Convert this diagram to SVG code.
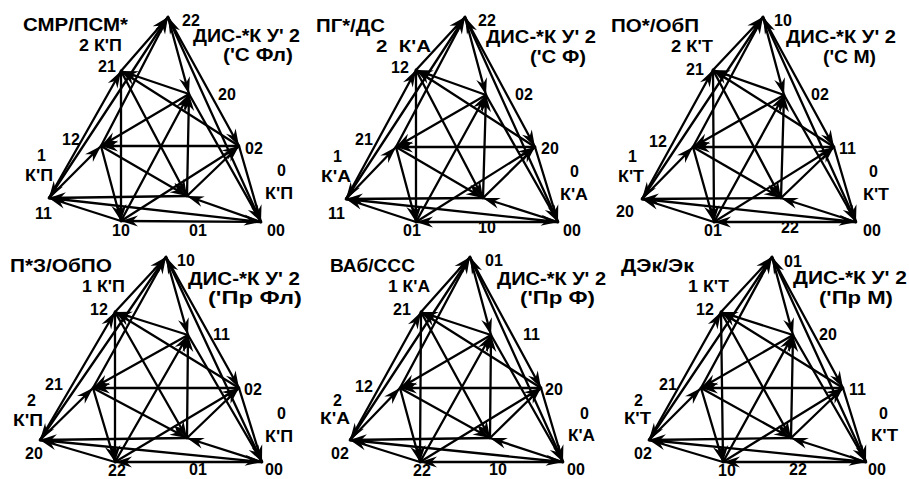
<svg xmlns="http://www.w3.org/2000/svg" width="909" height="479" viewBox="0 0 909 479">
<defs>
<marker id="ah" viewBox="-19 -7 20 14" refX="0" refY="0" markerWidth="20" markerHeight="14" markerUnits="userSpaceOnUse" orient="auto">
<path d="M0,0 L-17,-5.5 L-11.5,0 L-17,5.5 Z" fill="#000"/>
</marker>
</defs>
<style>
.e line{stroke:#000;stroke-width:2.3;marker-end:url(#ah);stroke-linecap:round}
text{font-family:"Liberation Sans",Arial,sans-serif;font-weight:bold;fill:#000}
.t{font-size:19px}
.k{font-size:16px}
.n{font-size:16px}
</style>
<rect width="909" height="479" fill="#fff"/>

<!-- Panel 1 -->
<g id="p1-connectors" class="e">
<line x1="121" y1="71" x2="168" y2="17"/><line x1="121" y1="71" x2="187" y2="196"/><line x1="121" y1="71" x2="121" y2="221"/>
<line x1="101" y1="146" x2="168" y2="17"/><line x1="101" y1="146" x2="187" y2="196"/><line x1="101" y1="146" x2="121" y2="221"/>
<line x1="261" y1="222" x2="168" y2="17"/><line x1="261" y1="222" x2="187" y2="196"/><line x1="261" y1="222" x2="121" y2="221"/>
<line x1="168" y1="17" x2="189" y2="94"/><line x1="168" y1="17" x2="239" y2="146"/><line x1="168" y1="17" x2="49" y2="198"/>
<line x1="187" y1="196" x2="189" y2="94"/><line x1="187" y1="196" x2="239" y2="146"/><line x1="187" y1="196" x2="49" y2="198"/>
<line x1="121" y1="221" x2="189" y2="94"/><line x1="121" y1="221" x2="239" y2="146"/><line x1="121" y1="221" x2="49" y2="198"/>
<line x1="189" y1="94" x2="121" y2="71"/><line x1="189" y1="94" x2="101" y2="146"/><line x1="189" y1="94" x2="261" y2="222"/>
<line x1="239" y1="146" x2="121" y2="71"/><line x1="239" y1="146" x2="101" y2="146"/><line x1="239" y1="146" x2="261" y2="222"/>
<line x1="49" y1="198" x2="121" y2="71"/><line x1="49" y1="198" x2="101" y2="146"/><line x1="49" y1="198" x2="261" y2="222"/>
</g>
<g id="p1-labels">
<text class="t" x="23" y="31" textLength="105" lengthAdjust="spacingAndGlyphs">СМР/ПСМ*</text>
<text class="k" x="79" y="51" textLength="43" lengthAdjust="spacingAndGlyphs">2 К'П</text>
<text class="t" x="193" y="42" textLength="107" lengthAdjust="spacingAndGlyphs">ДИС-*К У' 2</text>
<text class="t" x="223" y="61" textLength="70" lengthAdjust="spacingAndGlyphs">('С Фл)</text>
<text class="k" x="37" y="161">1</text>
<text class="k" x="25" y="181" textLength="28" lengthAdjust="spacingAndGlyphs">К'П</text>
<text class="k" x="277" y="176">0</text>
<text class="k" x="265" y="199" textLength="28" lengthAdjust="spacingAndGlyphs">К'П</text>
</g>
<g id="p1-n22"><text class="n" x="182" y="26">22</text></g>
<g id="p1-n21"><text class="n" x="98" y="72">21</text></g>
<g id="p1-n20"><text class="n" x="218" y="100">20</text></g>
<g id="p1-n12"><text class="n" x="62" y="145">12</text></g>
<g id="p1-n02"><text class="n" x="245" y="154">02</text></g>
<g id="p1-n11"><text class="n" x="35" y="219">11</text></g>
<g id="p1-n10"><text class="n" x="112" y="236">10</text></g>
<g id="p1-n01"><text class="n" x="189" y="236">01</text></g>
<g id="p1-n00"><text class="n" x="267" y="236">00</text></g>

<!-- Panel 2 -->
<g id="p2-connectors" class="e">
<line x1="416" y1="70" x2="465" y2="17"/><line x1="416" y1="70" x2="483" y2="198"/><line x1="416" y1="70" x2="416" y2="222"/>
<line x1="396" y1="147" x2="465" y2="17"/><line x1="396" y1="147" x2="483" y2="198"/><line x1="396" y1="147" x2="416" y2="222"/>
<line x1="558" y1="222" x2="465" y2="17"/><line x1="558" y1="222" x2="483" y2="198"/><line x1="558" y1="222" x2="416" y2="222"/>
<line x1="465" y1="17" x2="486" y2="95"/><line x1="465" y1="17" x2="535" y2="147"/><line x1="465" y1="17" x2="346" y2="199"/>
<line x1="483" y1="198" x2="486" y2="95"/><line x1="483" y1="198" x2="535" y2="147"/><line x1="483" y1="198" x2="346" y2="199"/>
<line x1="416" y1="222" x2="486" y2="95"/><line x1="416" y1="222" x2="535" y2="147"/><line x1="416" y1="222" x2="346" y2="199"/>
<line x1="486" y1="95" x2="416" y2="70"/><line x1="486" y1="95" x2="396" y2="147"/><line x1="486" y1="95" x2="558" y2="222"/>
<line x1="535" y1="147" x2="416" y2="70"/><line x1="535" y1="147" x2="396" y2="147"/><line x1="535" y1="147" x2="558" y2="222"/>
<line x1="346" y1="199" x2="416" y2="70"/><line x1="346" y1="199" x2="396" y2="147"/><line x1="346" y1="199" x2="558" y2="222"/>
</g>
<g id="p2-labels">
<text class="t" x="316" y="32" textLength="69" lengthAdjust="spacingAndGlyphs">ПГ*/ДС</text>
<text class="k" x="376" y="52" textLength="55" lengthAdjust="spacingAndGlyphs" xml:space="preserve">2  К'А</text>
<text class="t" x="486" y="43" textLength="110" lengthAdjust="spacingAndGlyphs">ДИС-*К У' 2</text>
<text class="t" x="530" y="63" textLength="56" lengthAdjust="spacingAndGlyphs">('С Ф)</text>
<text class="k" x="333" y="162">1</text>
<text class="k" x="321" y="182" textLength="30" lengthAdjust="spacingAndGlyphs">К'А</text>
<text class="k" x="570" y="177">0</text>
<text class="k" x="560" y="200" textLength="28" lengthAdjust="spacingAndGlyphs">К'А</text>
</g>
<g id="p2-n22"><text class="n" x="478" y="26">22</text></g>
<g id="p2-n12"><text class="n" x="391" y="73">12</text></g>
<g id="p2-n02"><text class="n" x="515" y="100">02</text></g>
<g id="p2-n21"><text class="n" x="355" y="145">21</text></g>
<g id="p2-n20"><text class="n" x="541" y="154">20</text></g>
<g id="p2-n11"><text class="n" x="328" y="219">11</text></g>
<g id="p2-n01"><text class="n" x="403" y="236">01</text></g>
<g id="p2-n10"><text class="n" x="478" y="233">10</text></g>
<g id="p2-n00"><text class="n" x="563" y="236">00</text></g>

<!-- Panel 3 -->
<g id="p3-connectors" class="e">
<line x1="713" y1="70" x2="763" y2="17"/><line x1="713" y1="70" x2="781" y2="198"/><line x1="713" y1="70" x2="714" y2="222"/>
<line x1="693" y1="147" x2="763" y2="17"/><line x1="693" y1="147" x2="781" y2="198"/><line x1="693" y1="147" x2="714" y2="222"/>
<line x1="856" y1="222" x2="763" y2="17"/><line x1="856" y1="222" x2="781" y2="198"/><line x1="856" y1="222" x2="714" y2="222"/>
<line x1="763" y1="17" x2="784" y2="95"/><line x1="763" y1="17" x2="834" y2="147"/><line x1="763" y1="17" x2="642" y2="199"/>
<line x1="781" y1="198" x2="784" y2="95"/><line x1="781" y1="198" x2="834" y2="147"/><line x1="781" y1="198" x2="642" y2="199"/>
<line x1="714" y1="222" x2="784" y2="95"/><line x1="714" y1="222" x2="834" y2="147"/><line x1="714" y1="222" x2="642" y2="199"/>
<line x1="784" y1="95" x2="713" y2="70"/><line x1="784" y1="95" x2="693" y2="147"/><line x1="784" y1="95" x2="856" y2="222"/>
<line x1="834" y1="147" x2="713" y2="70"/><line x1="834" y1="147" x2="693" y2="147"/><line x1="834" y1="147" x2="856" y2="222"/>
<line x1="642" y1="199" x2="713" y2="70"/><line x1="642" y1="199" x2="693" y2="147"/><line x1="642" y1="199" x2="856" y2="222"/>
</g>
<g id="p3-labels">
<text class="t" x="611" y="32" textLength="88" lengthAdjust="spacingAndGlyphs">ПО*/ОбП</text>
<text class="k" x="671" y="52" textLength="42" lengthAdjust="spacingAndGlyphs">2 К'Т</text>
<text class="t" x="786" y="43" textLength="110" lengthAdjust="spacingAndGlyphs">ДИС-*К У' 2</text>
<text class="t" x="823" y="63" textLength="53" lengthAdjust="spacingAndGlyphs">('С М)</text>
<text class="k" x="628" y="162">1</text>
<text class="k" x="618" y="182" textLength="26" lengthAdjust="spacingAndGlyphs">К'Т</text>
<text class="k" x="869" y="177">0</text>
<text class="k" x="863" y="200" textLength="26" lengthAdjust="spacingAndGlyphs">К'Т</text>
</g>
<g id="p3-n10"><text class="n" x="774" y="26">10</text></g>
<g id="p3-n21"><text class="n" x="686" y="75">21</text></g>
<g id="p3-n02"><text class="n" x="811" y="100">02</text></g>
<g id="p3-n12"><text class="n" x="649" y="147">12</text></g>
<g id="p3-n11"><text class="n" x="839" y="154">11</text></g>
<g id="p3-n20"><text class="n" x="616" y="217">20</text></g>
<g id="p3-n01"><text class="n" x="704" y="236">01</text></g>
<g id="p3-n22"><text class="n" x="781" y="233">22</text></g>
<g id="p3-n00"><text class="n" x="863" y="236">00</text></g>

<!-- Panel 4 -->
<g id="p4-connectors" class="e">
<line x1="115" y1="312" x2="166" y2="257"/><line x1="115" y1="312" x2="187" y2="438"/><line x1="115" y1="312" x2="115" y2="462"/>
<line x1="93" y1="388" x2="166" y2="257"/><line x1="93" y1="388" x2="187" y2="438"/><line x1="93" y1="388" x2="115" y2="462"/>
<line x1="262" y1="462" x2="166" y2="257"/><line x1="262" y1="462" x2="187" y2="438"/><line x1="262" y1="462" x2="115" y2="462"/>
<line x1="166" y1="257" x2="188" y2="335"/><line x1="166" y1="257" x2="239" y2="388"/><line x1="166" y1="257" x2="40" y2="440"/>
<line x1="187" y1="438" x2="188" y2="335"/><line x1="187" y1="438" x2="239" y2="388"/><line x1="187" y1="438" x2="40" y2="440"/>
<line x1="115" y1="462" x2="188" y2="335"/><line x1="115" y1="462" x2="239" y2="388"/><line x1="115" y1="462" x2="40" y2="440"/>
<line x1="188" y1="335" x2="115" y2="312"/><line x1="188" y1="335" x2="93" y2="388"/><line x1="188" y1="335" x2="262" y2="462"/>
<line x1="239" y1="388" x2="115" y2="312"/><line x1="239" y1="388" x2="93" y2="388"/><line x1="239" y1="388" x2="262" y2="462"/>
<line x1="40" y1="440" x2="115" y2="312"/><line x1="40" y1="440" x2="93" y2="388"/><line x1="40" y1="440" x2="262" y2="462"/>
</g>
<g id="p4-labels">
<text class="t" x="10" y="272" textLength="102" lengthAdjust="spacingAndGlyphs">П*З/ОбПО</text>
<text class="k" x="82" y="292" textLength="43" lengthAdjust="spacingAndGlyphs">1 К'П</text>
<text class="t" x="188" y="285" textLength="112" lengthAdjust="spacingAndGlyphs">ДИС-*К У' 2</text>
<text class="t" x="208" y="304" textLength="94" lengthAdjust="spacingAndGlyphs">('Пр Фл)</text>
<text class="k" x="27" y="406">2</text>
<text class="k" x="13" y="426" textLength="30" lengthAdjust="spacingAndGlyphs">К'П</text>
<text class="k" x="277" y="419">0</text>
<text class="k" x="265" y="442" textLength="28" lengthAdjust="spacingAndGlyphs">К'П</text>
</g>
<g id="p4-n10"><text class="n" x="177" y="266">10</text></g>
<g id="p4-n12"><text class="n" x="90" y="315">12</text></g>
<g id="p4-n11"><text class="n" x="213" y="340">11</text></g>
<g id="p4-n21"><text class="n" x="45" y="390">21</text></g>
<g id="p4-n02"><text class="n" x="244" y="395">02</text></g>
<g id="p4-n20"><text class="n" x="25" y="459">20</text></g>
<g id="p4-n22"><text class="n" x="108" y="476">22</text></g>
<g id="p4-n01"><text class="n" x="189" y="475">01</text></g>
<g id="p4-n00"><text class="n" x="265" y="475">00</text></g>

<!-- Panel 5 -->
<g id="p5-connectors" class="e">
<line x1="421" y1="312" x2="470" y2="257"/><line x1="421" y1="312" x2="490" y2="438"/><line x1="421" y1="312" x2="420" y2="462"/>
<line x1="400" y1="388" x2="470" y2="257"/><line x1="400" y1="388" x2="490" y2="438"/><line x1="400" y1="388" x2="420" y2="462"/>
<line x1="563" y1="462" x2="470" y2="257"/><line x1="563" y1="462" x2="490" y2="438"/><line x1="563" y1="462" x2="420" y2="462"/>
<line x1="470" y1="257" x2="491" y2="335"/><line x1="470" y1="257" x2="541" y2="388"/><line x1="470" y1="257" x2="350" y2="440"/>
<line x1="490" y1="438" x2="491" y2="335"/><line x1="490" y1="438" x2="541" y2="388"/><line x1="490" y1="438" x2="350" y2="440"/>
<line x1="420" y1="462" x2="491" y2="335"/><line x1="420" y1="462" x2="541" y2="388"/><line x1="420" y1="462" x2="350" y2="440"/>
<line x1="491" y1="335" x2="421" y2="312"/><line x1="491" y1="335" x2="400" y2="388"/><line x1="491" y1="335" x2="563" y2="462"/>
<line x1="541" y1="388" x2="421" y2="312"/><line x1="541" y1="388" x2="400" y2="388"/><line x1="541" y1="388" x2="563" y2="462"/>
<line x1="350" y1="440" x2="421" y2="312"/><line x1="350" y1="440" x2="400" y2="388"/><line x1="350" y1="440" x2="563" y2="462"/>
</g>
<g id="p5-labels">
<text class="t" x="330" y="272" textLength="85" lengthAdjust="spacingAndGlyphs">ВАб/ССС</text>
<text class="k" x="388" y="292" textLength="42" lengthAdjust="spacingAndGlyphs">1 К'А</text>
<text class="t" x="497" y="285" textLength="109" lengthAdjust="spacingAndGlyphs">ДИС-*К У' 2</text>
<text class="t" x="520" y="304" textLength="75" lengthAdjust="spacingAndGlyphs">('Пр Ф)</text>
<text class="k" x="333" y="406">2</text>
<text class="k" x="320" y="424" textLength="30" lengthAdjust="spacingAndGlyphs">К'А</text>
<text class="k" x="580" y="419">0</text>
<text class="k" x="568" y="441" textLength="27" lengthAdjust="spacingAndGlyphs">К'А</text>
</g>
<g id="p5-n01"><text class="n" x="485" y="266">01</text></g>
<g id="p5-n21"><text class="n" x="393" y="315">21</text></g>
<g id="p5-n11"><text class="n" x="523" y="340">11</text></g>
<g id="p5-n12"><text class="n" x="355" y="392">12</text></g>
<g id="p5-n20"><text class="n" x="545" y="395">20</text></g>
<g id="p5-n02"><text class="n" x="331" y="459">02</text></g>
<g id="p5-n22"><text class="n" x="413" y="476">22</text></g>
<g id="p5-n10"><text class="n" x="489" y="475">10</text></g>
<g id="p5-n00"><text class="n" x="567" y="475">00</text></g>

<!-- Panel 6 -->
<g id="p6-connectors" class="e">
<line x1="721" y1="312" x2="772" y2="257"/><line x1="721" y1="312" x2="791" y2="438"/><line x1="721" y1="312" x2="723" y2="462"/>
<line x1="701" y1="388" x2="772" y2="257"/><line x1="701" y1="388" x2="791" y2="438"/><line x1="701" y1="388" x2="723" y2="462"/>
<line x1="866" y1="462" x2="772" y2="257"/><line x1="866" y1="462" x2="791" y2="438"/><line x1="866" y1="462" x2="723" y2="462"/>
<line x1="772" y1="257" x2="793" y2="335"/><line x1="772" y1="257" x2="843" y2="388"/><line x1="772" y1="257" x2="649" y2="440"/>
<line x1="791" y1="438" x2="793" y2="335"/><line x1="791" y1="438" x2="843" y2="388"/><line x1="791" y1="438" x2="649" y2="440"/>
<line x1="723" y1="462" x2="793" y2="335"/><line x1="723" y1="462" x2="843" y2="388"/><line x1="723" y1="462" x2="649" y2="440"/>
<line x1="793" y1="335" x2="721" y2="312"/><line x1="793" y1="335" x2="701" y2="388"/><line x1="793" y1="335" x2="866" y2="462"/>
<line x1="843" y1="388" x2="721" y2="312"/><line x1="843" y1="388" x2="701" y2="388"/><line x1="843" y1="388" x2="866" y2="462"/>
<line x1="649" y1="440" x2="721" y2="312"/><line x1="649" y1="440" x2="701" y2="388"/><line x1="649" y1="440" x2="866" y2="462"/>
</g>
<g id="p6-labels">
<text class="t" x="621" y="272" textLength="73" lengthAdjust="spacingAndGlyphs">ДЭк/Эк</text>
<text class="k" x="688" y="292" textLength="41" lengthAdjust="spacingAndGlyphs">1 К'Т</text>
<text class="t" x="793" y="284" textLength="114" lengthAdjust="spacingAndGlyphs">ДИС-*К У' 2</text>
<text class="t" x="819" y="304" textLength="74" lengthAdjust="spacingAndGlyphs">('Пр М)</text>
<text class="k" x="634" y="406">2</text>
<text class="k" x="624" y="424" textLength="27" lengthAdjust="spacingAndGlyphs">К'Т</text>
<text class="k" x="879" y="419">0</text>
<text class="k" x="871" y="441" textLength="27" lengthAdjust="spacingAndGlyphs">К'Т</text>
</g>
<g id="p6-n01"><text class="n" x="784" y="267">01</text></g>
<g id="p6-n12"><text class="n" x="696" y="315">12</text></g>
<g id="p6-n20"><text class="n" x="819" y="340">20</text></g>
<g id="p6-n21"><text class="n" x="659" y="390">21</text></g>
<g id="p6-n11"><text class="n" x="849" y="395">11</text></g>
<g id="p6-n02"><text class="n" x="634" y="459">02</text></g>
<g id="p6-n10"><text class="n" x="718" y="476">10</text></g>
<g id="p6-n22"><text class="n" x="789" y="475">22</text></g>
<g id="p6-n00"><text class="n" x="868" y="475">00</text></g>
</svg>
